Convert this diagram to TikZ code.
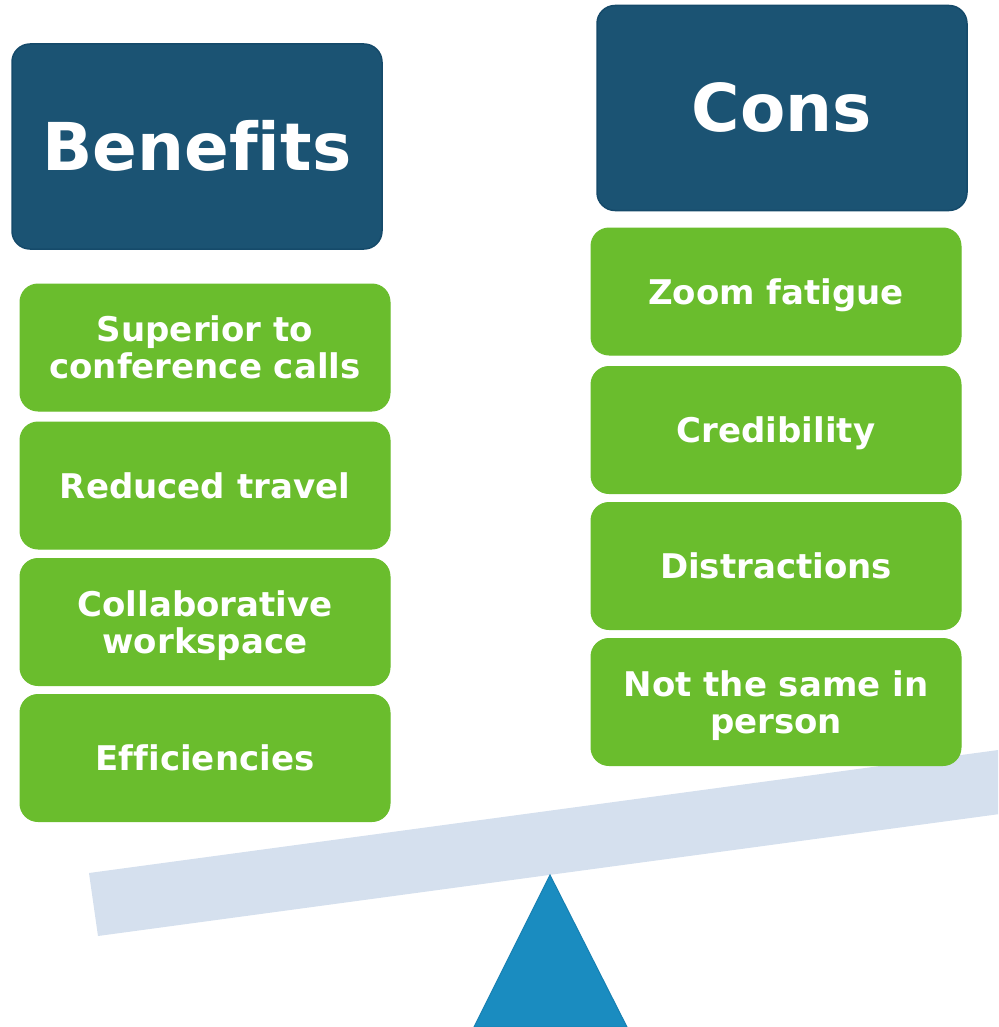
\documentclass[tikz,border=0pt]{standalone}
\usepackage{fontspec}
\setmainfont{DejaVu Sans}[Ligatures={NoCommon}]
\definecolor{hdrfill}{HTML}{1B5373}
\definecolor{hdrline}{HTML}{154A6A}
\definecolor{itemfill}{HTML}{6ABD2D}
\definecolor{beamcol}{HTML}{D5E0EE}
\definecolor{fulcfill}{HTML}{1A8CC0}
\definecolor{fulcline}{HTML}{1780B2}
\tikzset{
  header/.style={fill=hdrfill, draw=hdrline, line width=1.5pt, rounded corners=18pt,
    minimum width=370pt, minimum height=205pt, inner sep=0pt, text=white,
    text height=48pt, text depth=0pt,
    font=\fontsize{66}{72}\selectfont\bfseries},
  item/.style={fill=itemfill, draw=itemfill, line width=1pt, rounded corners=18pt,
    minimum width=370pt, minimum height=127pt, inner sep=0pt, text=white, align=center,
    text height=25pt, text depth=0pt,
    font=\fontsize{34}{37}\selectfont\bfseries},
  itemtwo/.style={item, text height=62pt, text depth=0pt},
  beamstyle/.style={fill=beamcol, draw=none},
  fulcstyle/.style={fill=fulcfill, draw=fulcline, line width=1pt}
}
\begin{document}
\begin{tikzpicture}[x=1pt,y=-1pt]
\useasboundingbox (0,0) rectangle (998,1027);
\begin{scope}
\clip (0,0) rectangle (998,1027);
% beam
\path[beamstyle] (89,873) -- (1010,748.4) -- (1019,811.4) -- (98,936) -- cycle;
% fulcrum
\coordinate (apex) at (550,875);
\coordinate (baseL) at (474,1027);
\coordinate (baseR) at (627,1027);
\draw[fulcstyle] (apex) -- (baseL) -- (baseR) -- cycle;
\end{scope}
% headers
\node[header] (ben) at (197,146.5) {Benefits};
\node[header] (cons) at (782,108) {Cons};
% benefits items
\node[itemtwo] (b1) at (205,347.5) {Superior to\\conference calls};
\node[item] (b2) at (205,485.5) {Reduced travel};
\node[itemtwo] (b3) at (205,622) {Collaborative\\workspace};
\node[item] (b4) at (205,758) {Efficiencies};
% cons items
\node[item] (c1) at (776,291.5) {Zoom fatigue};
\node[item] (c2) at (776,430) {Credibility};
\node[item] (c3) at (776,566) {Distractions};
\node[itemtwo] (c4) at (776,702) {Not the same in\\person};
\end{tikzpicture}
\end{document}
